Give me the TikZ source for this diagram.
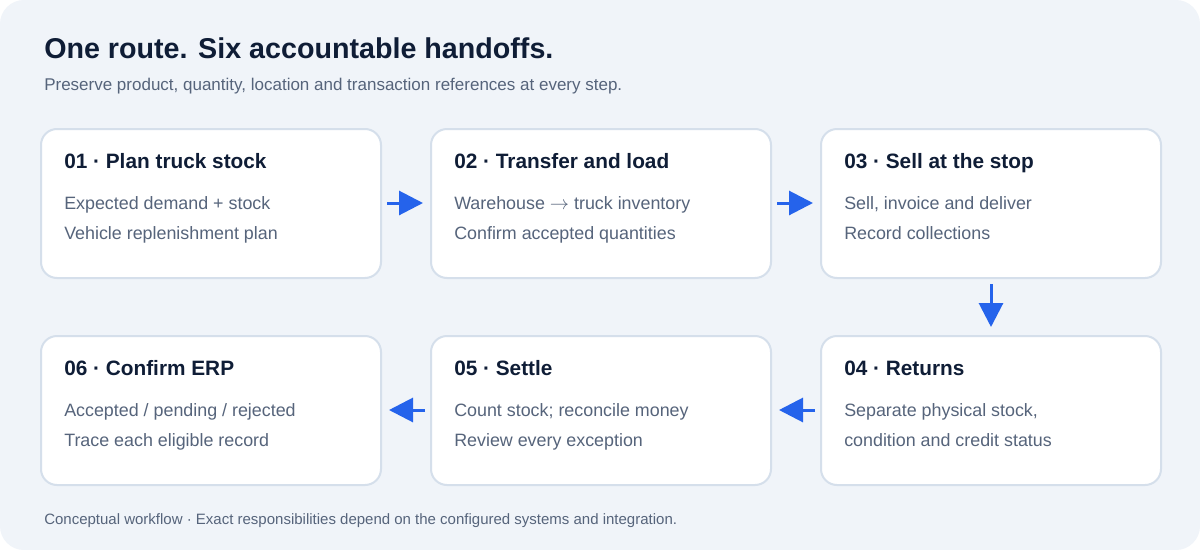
\documentclass[tikz,border=0pt]{standalone}
\usepackage{fontspec}
\setmainfont{Liberation Sans}
\usetikzlibrary{arrows.meta}
\definecolor{bgc}{HTML}{F0F4F9}
\definecolor{cardborder}{HTML}{D5DFEB}
\definecolor{navy}{HTML}{0F1D36}
\definecolor{bodyc}{HTML}{56647B}
\definecolor{subc}{HTML}{56647B}
\definecolor{arrowc}{HTML}{2563EB}
\tikzset{
  card/.style={draw=cardborder, line width=1.5pt, fill=white, rounded corners=12pt,
    minimum width=255pt, minimum height=111.75pt, inner sep=0pt, anchor=north west},
  cardtitle/.style={anchor=base west, inner sep=0pt, text=navy, font=\bfseries\fontsize{15.6}{18}\selectfont},
  cardbody/.style={anchor=base west, inner sep=0pt, text=bodyc, font=\fontsize{13.4}{16}\selectfont},
  flow/.style={draw=arrowc, line width=2.25pt, -{Triangle[length=18pt,width=18pt]}, arrowc},
}
\begin{document}
\begin{tikzpicture}[x=0.75pt,y=-0.75pt]
\useasboundingbox (0,0) rectangle (1200,550);
\fill[white] (0,0) rectangle (1200,550);
\fill[bgc, rounded corners=18pt] (0,0) rectangle (1200,550);

\node[anchor=base west, inner sep=0pt, text=navy, font=\bfseries\fontsize{21.5}{25}\selectfont] (title) at (44,58) {One route. Six accountable handoffs.};
\node[anchor=base west, inner sep=0pt, text=subc, font=\fontsize{12.75}{15}\selectfont] (sub) at (44,90) {Preserve product, quantity, location and transaction references at every step.};

\node[card] (b1) at (40,128) {};
\node[card] (b2) at (430,128) {};
\node[card] (b3) at (820,128) {};
\node[card] (b4) at (820,335) {};
\node[card] (b5) at (430,335) {};
\node[card] (b6) at (40,335) {};

\node[cardtitle] (t1) at (64,168) {01 · Plan truck stock};
\node[cardbody] (l1a) at (64,209) {Expected demand + stock};
\node[cardbody] (l1b) at (64,239) {Vehicle replenishment plan};

\node[cardtitle] (t2) at (454,168) {02 · Transfer and load};
\node[cardbody] (l2a) at (454,209) {Warehouse $\rightarrow$ truck inventory};
\node[cardbody] (l2b) at (454,239) {Confirm accepted quantities};

\node[cardtitle] (t3) at (844,168) {03 · Sell at the stop};
\node[cardbody] (l3a) at (844,209) {Sell, invoice and deliver};
\node[cardbody] (l3b) at (844,239) {Record collections};

\node[cardtitle] (t4) at (844,375) {04 · Returns};
\node[cardbody] (l4a) at (844,416) {Separate physical stock,};
\node[cardbody] (l4b) at (844,446) {condition and credit status};

\node[cardtitle] (t5) at (454,375) {05 · Settle};
\node[cardbody] (l5a) at (454,416) {Count stock; reconcile money};
\node[cardbody] (l5b) at (454,446) {Review every exception};

\node[cardtitle] (t6) at (64,375) {06 · Confirm ERP};
\node[cardbody] (l6a) at (64,416) {Accepted / pending / rejected};
\node[cardbody] (l6b) at (64,446) {Trace each eligible record};

\draw[flow, shorten <=3.75pt, shorten >=5.25pt] ([yshift=-56.25pt]b1.north east) -- ([yshift=-56.25pt]b2.north west);
\draw[flow, shorten <=3.75pt, shorten >=5.25pt] ([yshift=-56.25pt]b2.north east) -- ([yshift=-56.25pt]b3.north west);
\draw[flow, shorten <=3.75pt, shorten >=6pt] (b3.south) -- (b4.north);
\draw[flow, shorten <=3.75pt, shorten >=5.25pt] ([yshift=-56.25pt]b4.north west) -- ([yshift=-56.25pt]b5.north east);
\draw[flow, shorten <=3.75pt, shorten >=5.25pt] ([yshift=-56.25pt]b5.north west) -- ([yshift=-56.25pt]b6.north east);

\node[anchor=base west, inner sep=0pt, text=subc, font=\fontsize{11.25}{13}\selectfont] (foot) at (44,524) {Conceptual workflow · Exact responsibilities depend on the configured systems and integration.};
\end{tikzpicture}
\end{document}
